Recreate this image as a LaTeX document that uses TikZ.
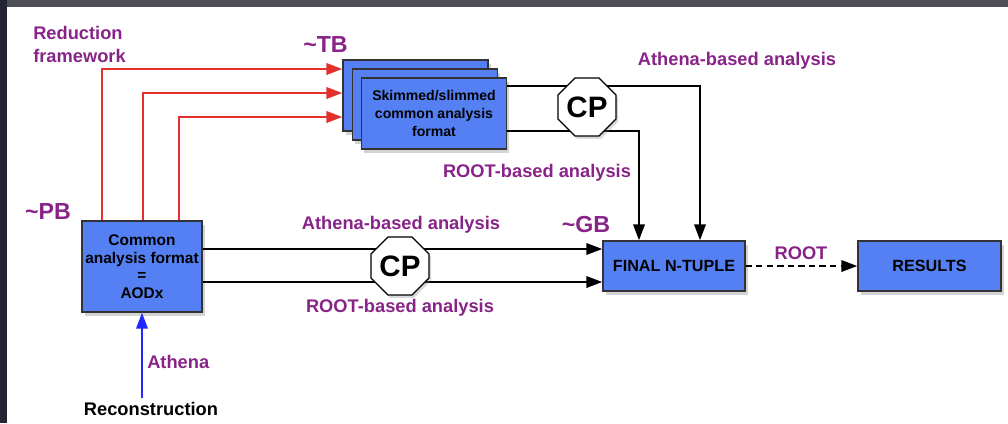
\documentclass[tikz,border=0pt]{standalone}
\usepackage{fontspec}
\setmainfont{Liberation Sans}
\usetikzlibrary{arrows.meta,shapes.geometric,shadows}
\definecolor{boxblue}{RGB}{84,128,243}
\definecolor{labelpurple}{RGB}{136,36,136}
\definecolor{redline}{RGB}{228,48,44}
\definecolor{blueline}{RGB}{32,40,255}
\definecolor{framegray}{RGB}{78,78,88}
\definecolor{framedark}{RGB}{36,36,50}
\tikzset{
  fmtbox/.style={draw=black!80, line width=0.8pt, fill=boxblue, inner sep=0pt, align=center,
    font=\bfseries\fontsize{11}{12.5}\selectfont,
    drop shadow={shadow xshift=2pt, shadow yshift=-2.5pt, opacity=0.35}},
  cpsign/.style={regular polygon, regular polygon sides=8, minimum size=1.52cm, inner sep=0pt,
    draw=black, line width=0.8pt, fill=white, font=\bfseries\fontsize{21}{21}\selectfont,
    drop shadow={shadow xshift=1.5pt, shadow yshift=-2pt, opacity=0.3}},
  purplelbl/.style={text=labelpurple, inner sep=0pt, anchor=base,
    font=\bfseries\fontsize{13}{17}\selectfont},
  sizelbl/.style={purplelbl, font=\bfseries\fontsize{16.5}{18}\selectfont},
  flow/.style={line width=1.9pt, -{Triangle[length=0.4cm, width=0.28cm]}},
}
\begin{document}
\begin{tikzpicture}[x=0.025cm, y=-0.025cm]
  \useasboundingbox (0,0) rectangle (1008,423);
  \fill[framegray] (0,0) rectangle (1008,7);
  \fill[framedark] (0,0) rectangle (7,423);

  \node[fmtbox, minimum width=3cm, minimum height=2.275cm] (aod) at (142,266.5)
    {Common\\analysis format\\=\\AODx};
  \node[fmtbox, minimum width=3.625cm, minimum height=1.775cm] (back) at (415.5,95.5) {};
  \node[fmtbox, minimum width=3.625cm, minimum height=1.775cm] (mid) at (425,104.5) {};
  \node[fmtbox, minimum width=3.625cm, minimum height=1.775cm,
    font=\bfseries\fontsize{10}{12.8}\selectfont] (front) at (434,113.5)
    {Skimmed/slimmed\\common analysis\\format};
  \node[fmtbox, minimum width=3.55cm, minimum height=1.25cm,
    font=\bfseries\fontsize{11.5}{13}\selectfont] (fin) at (674,266) {FINAL N-TUPLE};
  \node[fmtbox, minimum width=3.575cm, minimum height=1.25cm,
    font=\bfseries\fontsize{11.5}{13}\selectfont] (res) at (929.5,266) {RESULTS};

  % reduction framework
  \foreach \i/\x/\y in {1/102/69, 2/143/93, 3/179/117} {
    \coordinate (r\i) at (\x,\y);
    \draw[flow, redline] (aod.north -| r\i) |- (back.west |- r\i);
  }

  % analysis paths
  \coordinate (t1) at (700,86);
  \coordinate (t2) at (639,131);
  \coordinate (m1) at (400,249);
  \coordinate (m2) at (400,282);
  \draw[flow] (front.east |- t1) -| (fin.north -| t1);
  \draw[flow] (front.east |- t2) -| (fin.north -| t2);
  \draw[flow] (aod.east |- m1) -- (fin.west |- m1);
  \draw[flow] (aod.east |- m2) -- (fin.west |- m2);
  \draw[flow, dash pattern=on 4.5pt off 3pt] (fin) -- (res);

  \node[cpsign] (cp1) at (587,107) {CP};
  \node[cpsign] (cp2) at (400,266) {CP};

  % reconstruction
  \node[anchor=north, inner sep=3pt, font=\bfseries\fontsize{13}{15}\selectfont] (rec)
    at (151,398) {Reconstruction};
  \draw[flow, blueline] (rec.north -| aod.south) -- (aod.south);

  % labels
  \node[purplelbl, anchor=north west, align=left] (redfw) at (33,25.5) {Reduction\\framework};
  \node[purplelbl, anchor=base west] (athena) at (147,368) {Athena};
  \foreach \n/\x/\y/\t in {ath1/737/65/Athena-based analysis, root1/537/177/ROOT-based analysis,
      ath2/401/229/Athena-based analysis, root2/400/312/ROOT-based analysis, rootlbl/801/259/ROOT}
    \node[purplelbl] (\n) at (\x,\y) {\t};
  \foreach \n/\x/\y/\t in {tb/325.5/52/TB, pb/48/219/PB, gb/586/232/GB}
    \node[sizelbl] (\n) at (\x,\y) {\textasciitilde\t};
\end{tikzpicture}
\end{document}
